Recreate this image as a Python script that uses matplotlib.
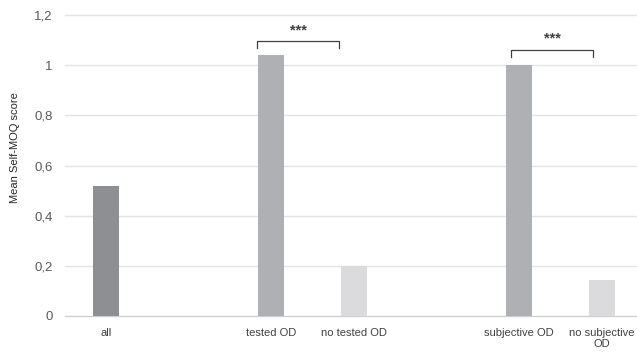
import matplotlib
matplotlib.use("Agg")
import matplotlib.pyplot as plt

categories = ["all", "", "tested OD", "no tested OD", "", "subjective OD", "no subjective\nOD"]
scores = [0.52, None, 1.04, 0.20, None, 1.00, 0.145]
colors = ["#8e8f93", None, "#afb0b4", "#dbdbdd", None, "#afb0b4", "#dbdbdd"]
y_ticks = [0, 0.2, 0.4, 0.6, 0.8, 1.0, 1.2]
y_tick_labels = ["0", "0,2", "0,4", "0,6", "0,8", "1", "1,2"]

# significance brackets: (x_left, x_right, y_line, y_leg_bottom, y_text, label)
brackets = [
    (1.83, 2.82, 1.095, 1.067, 1.14, "***"),
    (4.90, 5.90, 1.061, 1.031, 1.106, "***"),
]

plt.rcParams["font.family"] = ["Liberation Sans", "DejaVu Sans"]

fig = plt.figure(figsize=(6.37, 3.53), dpi=100)
ax = fig.add_axes([65 / 637, 37 / 353, 578 / 637, 301 / 353])

xs = [i for i, v in enumerate(scores) if v is not None]
ax.bar(xs, [scores[i] for i in xs], width=0.315,
       color=[colors[i] for i in xs], zorder=3)

ax.set_xlim(-0.5, len(categories) - 0.5)
ax.set_ylim(0, 1.2)
ax.set_yticks(y_ticks)
ax.set_yticklabels(y_tick_labels, fontsize=9.5, color="#595959")
ax.set_xticks(range(len(categories)))
ax.set_xticklabels(categories, fontsize=8, color="#404040", linespacing=1.05)
ax.tick_params(axis="both", length=0)
ax.tick_params(axis="y", pad=9)
ax.tick_params(axis="x", pad=9)

for y in y_ticks:
    ax.axhline(y, color="#d0d0d0" if y == 0 else "#e2e2e2", lw=1.0, zorder=1,
               clip_on=False)
for s in ax.spines.values():
    s.set_visible(False)

for xl, xr, yl, yb, yt, lab in brackets:
    ax.plot([xl, xl, xr, xr], [yb, yl, yl, yb], color="#404040", lw=0.9,
            clip_on=False, zorder=4)
    ax.text((xl + xr) / 2, yt, lab, ha="center", va="center", fontsize=10.5,
            fontweight="bold", color="#404040")

ax.set_ylabel("Mean Self-MOQ score", fontsize=8, color="#262626")
ax.yaxis.set_label_coords(-0.077, 0.558)

fig.savefig("out.png", dpi=100)
